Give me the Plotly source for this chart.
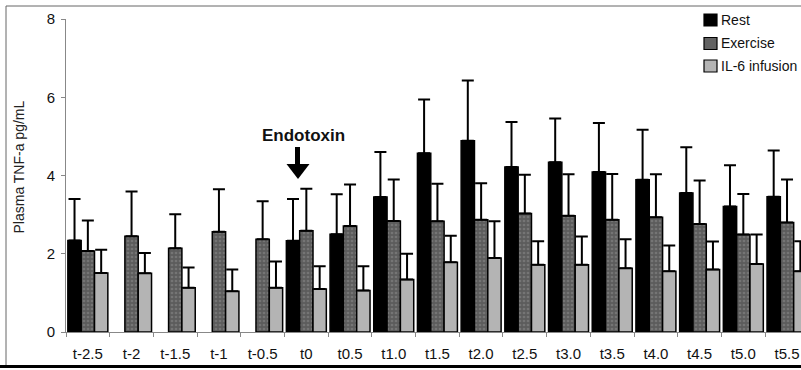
import plotly.graph_objects as go

categories = ["t-2.5", "t-2", "t-1.5", "t-1", "t-0.5", "t0", "t0.5", "t1.0", "t1.5",
              "t2.0", "t2.5", "t3.0", "t3.5", "t4.0", "t4.5", "t5.0", "t5.5"]

rest = [2.34, None, None, None, None, 2.33, 2.50, 3.45, 4.57,
        4.89, 4.22, 4.34, 4.09, 3.89, 3.55, 3.21, 3.46]
rest_err = [1.06, None, None, None, None, 1.07, 1.02, 1.15, 1.37,
            1.54, 1.15, 1.12, 1.25, 1.28, 1.17, 1.05, 1.18]

exercise = [2.07, 2.45, 2.14, 2.56, 2.37, 2.59, 2.71, 2.84, 2.83,
            2.87, 3.03, 2.97, 2.87, 2.93, 2.76, 2.49, 2.80]
exercise_err = [0.78, 1.14, 0.87, 1.09, 0.97, 1.07, 1.06, 1.06, 0.96,
                0.93, 0.99, 1.06, 1.17, 1.10, 1.11, 1.04, 1.10]

il6 = [1.51, 1.50, 1.13, 1.04, 1.13, 1.10, 1.06, 1.34, 1.78,
       1.89, 1.72, 1.72, 1.63, 1.55, 1.60, 1.74, 1.55]
il6_err = [0.59, 0.52, 0.52, 0.56, 0.67, 0.58, 0.62, 0.66, 0.68,
           0.94, 0.60, 0.72, 0.74, 0.66, 0.71, 0.75, 0.77]

series_names = ["Rest", "Exercise", "IL-6 infusion"]
y_ticks = [0, 2, 4, 6, 8]

FONT = "Liberation Sans, Arial, sans-serif"
W, H = 801, 370
ML, MR, MT, MB = 66, 0, 19, 38
PW, PH = W - ML - MR, H - MT - MB


def px(x):
    return (x - ML) / PW


def py(y):
    return (H - MB - y) / PH


line = dict(color="black", width=1.5)
fig = go.Figure()

fig.add_trace(go.Bar(
    x=categories, y=rest, name=series_names[0],
    marker=dict(color="black", line=line),
    error_y=dict(type="data", array=rest_err, arrayminus=[0] * len(rest_err),
                 symmetric=False, color="black", thickness=2, width=6),
))
fig.add_trace(go.Bar(
    x=categories, y=exercise, name=series_names[1],
    marker=dict(color="#5e5e5e", line=line,
                pattern=dict(shape=".", bgcolor="#5c5c5c", fgcolor="#8e8e8e",
                             size=4, solidity=0.35, fillmode="overlay")),
    error_y=dict(type="data", array=exercise_err, arrayminus=[0] * len(exercise_err),
                 symmetric=False, color="black", thickness=2, width=6),
))
fig.add_trace(go.Bar(
    x=categories, y=il6, name=series_names[2],
    marker=dict(color="#b4b4b4", line=line),
    error_y=dict(type="data", array=il6_err, arrayminus=[0] * len(il6_err),
                 symmetric=False, color="black", thickness=2, width=6),
))

shapes = []
# outer frame
shapes.append(dict(type="line", xref="paper", yref="paper", x0=px(6), x1=px(801), y0=py(6), y1=py(6),
                   line=dict(color="#666", width=1)))
shapes.append(dict(type="line", xref="paper", yref="paper", x0=px(6), x1=px(6), y0=py(6), y1=py(367),
                   line=dict(color="#666", width=1)))
shapes.append(dict(type="line", xref="paper", yref="paper", x0=px(0), x1=px(801), y0=py(366.5), y1=py(366.5),
                   line=dict(color="black", width=3)))

# manual legend
leg_colors = ["black", "#626262", "#b4b4b4"]
leg_y = [20, 43.5, 66]
annotations = []
for name, col, yc in zip(series_names, leg_colors, leg_y):
    shapes.append(dict(type="rect", xref="paper", yref="paper",
                       x0=px(704), x1=px(717), y0=py(yc - 6), y1=py(yc + 6),
                       fillcolor=col, line=dict(color="black", width=1.2)))
    annotations.append(dict(xref="paper", yref="paper", x=px(719), y=py(yc), text=name,
                            showarrow=False, xanchor="left", yanchor="middle",
                            font=dict(family=FONT, size=14, color="#111")))

# Endotoxin arrow
shapes.append(dict(type="rect", xref="paper", yref="paper", x0=px(295), x1=px(300),
                   y0=py(147), y1=py(165), fillcolor="black", line=dict(width=0)))
shapes.append(dict(type="path", xref="paper", yref="paper",
                   path=f"M {px(286.5)} {py(164)} L {px(309.5)} {py(164)} L {px(298)} {py(179)} Z",
                   fillcolor="black", line=dict(width=0)))
annotations.append(dict(xref="paper", yref="paper", x=px(303), y=py(135), text="<b>Endotoxin</b>",
                        showarrow=False, xanchor="center", yanchor="middle",
                        font=dict(family=FONT, size=17, color="#111")))
# y axis title
annotations.append(dict(xref="paper", yref="paper", x=px(18.5), y=py(167), text="Plasma TNF-a pg/mL",
                        showarrow=False, textangle=-90, xanchor="center", yanchor="middle",
                        font=dict(family=FONT, size=14, color="#222")))

fig.update_layout(
    width=W, height=H,
    margin=dict(l=ML, r=MR, t=MT, b=MB, pad=0),
    barmode="group", bargap=0.085, bargroupgap=0,
    plot_bgcolor="white", paper_bgcolor="white",
    showlegend=False,
    shapes=shapes, annotations=annotations,
    font=dict(family=FONT, color="#111"),
)
fig.update_xaxes(
    type="category", range=[-0.5, 16.32], showline=True, linecolor="#888", linewidth=1,
    ticks="outside", tickson="boundaries", ticklen=4, tickcolor="#888",
    tickfont=dict(family=FONT, size=15, color="#111"), ticklabelstandoff=8,
    showgrid=False, zeroline=False,
)
fig.update_yaxes(
    range=[0, 8], tickvals=y_ticks, showline=True, linecolor="#888", linewidth=1,
    ticks="outside", ticklen=4, tickcolor="#888",
    tickfont=dict(family=FONT, size=15, color="#111"), ticklabelstandoff=3,
    showgrid=False, zeroline=False,
)

fig.write_html("out.html", config={"displayModeBar": False},
               post_script="document.body.style.margin='0';document.body.style.overflow='hidden';")
